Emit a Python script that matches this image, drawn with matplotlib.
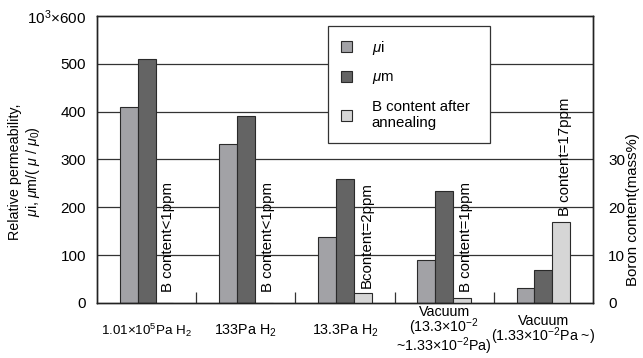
import numpy as np
import matplotlib
matplotlib.use("Agg")
import matplotlib.pyplot as plt
from matplotlib.ticker import FixedLocator

plt.rcParams['font.family'] = ['Liberation Sans', 'DejaVu Sans']
plt.rcParams['mathtext.fontset'] = 'custom'
plt.rcParams['mathtext.rm'] = 'Liberation Sans'
plt.rcParams['mathtext.it'] = 'Liberation Sans:italic'

categories = ["1.01×10$^5$Pa H$_2$", "133Pa H$_2$", "13.3Pa H$_2$",
              "Vacuum\n(13.3×10$^{-2}$\n~1.33×10$^{-2}$Pa)",
              "Vacuum\n(1.33×10$^{-2}$Pa ~)"]
mu_i = [410, 333, 138, 90, 31]
mu_m = [510, 390, 259, 234, 69]
b_content = [0, 0, 2, 1, 17]          # ppm, right axis
b_labels = ["B content<1ppm", "B content<1ppm", "Bcontent=2ppm",
            "B content=1ppm", "B content=17ppm"]
left_ticks = [0, 100, 200, 300, 400, 500, 600]
left_ticklabels = ["0", "100", "200", "300", "400", "500", "10$^3$×600"]
right_ticks = [0, 10, 20, 30]

c_i = "#a2a2a6"
c_m = "#646464"
c_b = "#d6d6d6"
edge = "#2a2a2a"

fig = plt.figure(figsize=(6.43, 3.58), dpi=100)
ax = fig.add_axes([97/643, 1-303/358, 496/643, 287/358])
ax2 = ax.twinx()

x = np.arange(len(categories))
w = 0.18
ax.bar(x - w, mu_i, w, color=c_i, edgecolor=edge, linewidth=0.8, label="$\\mu$i", zorder=2)
ax.bar(x, mu_m, w, color=c_m, edgecolor=edge, linewidth=0.8, label="$\\mu$m", zorder=2)
ax2.bar(x + w, b_content, w, color=c_b, edgecolor=edge, linewidth=0.8,
        label="B content after\nannealing", zorder=2)

ax.set_xlim(-0.5, len(categories) - 0.5)
ax.set_ylim(0, 600)
ax2.set_ylim(0, 60)
for yv in left_ticks[1:-1]:
    ax.axhline(yv, color="#333333", linewidth=0.9, zorder=1)

ax.set_yticks(left_ticks)
ax.set_yticklabels(left_ticklabels, fontsize=11)
ax.tick_params(axis='y', length=0, pad=8)
ax2.set_yticks(right_ticks)
ax2.tick_params(axis='y', length=0, pad=11, labelsize=11)

ax.set_xticks(x)
ax.set_xticklabels(categories, fontsize=10.3)
ax.xaxis.set_minor_locator(FixedLocator(np.arange(0.5, len(categories) - 1, 1.0)))
ax.tick_params(axis='x', which='major', length=0, pad=20)
ax.tick_params(axis='x', which='minor', direction='in', length=8, width=0.9, color="#333333")
for lab in ax.get_xticklabels():
    lab.set_verticalalignment('center')
    lab.set_linespacing(0.85)
ax.get_xticklabels()[0].set_fontsize(9.6)

for sp in list(ax.spines.values()) + list(ax2.spines.values()):
    sp.set_linewidth(1.0)
    sp.set_color("#222222")

# rotated annotations above the boron bars
for xi, bv, txt in zip(x, b_content, b_labels):
    ax.text(xi + w + 0.04, max(bv * 10, 10) + 12, txt, rotation=90,
            ha='center', va='bottom', fontsize=10.8, zorder=3)

h1, l1 = ax.get_legend_handles_labels()
h2, l2 = ax2.get_legend_handles_labels()
leg = ax2.legend(h1 + h2, l1 + l2, loc='upper left',
                 bbox_to_anchor=(0.466, 0.557, 0.326, 0.408), mode='expand',
                 fancybox=False, framealpha=1, edgecolor="#333333", fontsize=10.8,
                 handlelength=0.75, handleheight=0.75, labelspacing=0.9,
                 borderpad=0.85, handletextpad=1.3, borderaxespad=0)
leg.get_frame().set_linewidth(0.9)
leg.set_zorder(5)

fig.text(25/643, 1-172/358, "Relative permeability,\n$\\mu$i, $\\mu$m/( $\\mu$ / $\\mu_0$)",
         rotation=90, ha='center', va='center', fontsize=10.3, multialignment='center')
fig.text(633/643, 1-210/358, "Boron content(mass%)", rotation=90,
         ha='center', va='center', fontsize=10.8)

fig.savefig("out.png", dpi=100)
